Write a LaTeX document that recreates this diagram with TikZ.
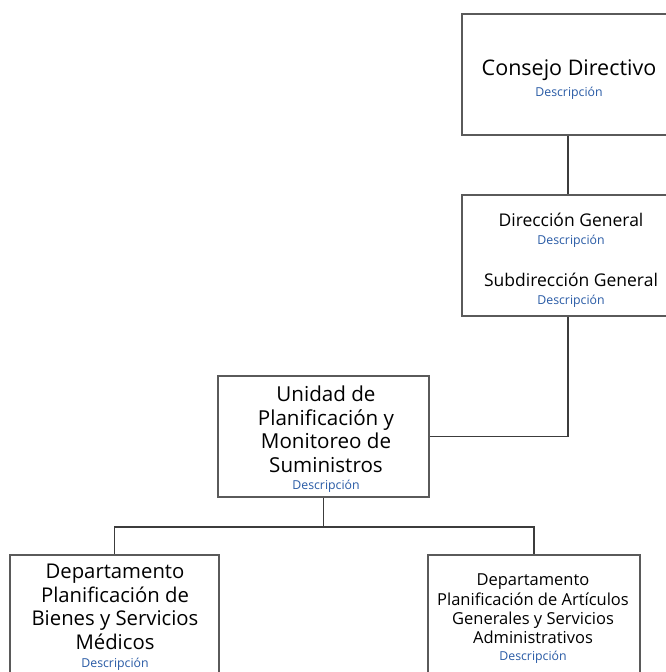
\documentclass[tikz,border=0pt]{standalone}
\usepackage{fontspec}
\setmainfont{Open Sans}
\definecolor{boxgray}{RGB}{90,90,90}
\definecolor{linegray}{RGB}{60,60,60}
\definecolor{descblue}{RGB}{40,90,165}
\begin{document}
\begin{tikzpicture}[x=1pt,y=-1pt,
    box/.style={draw=boxgray,line width=1.3pt,fill=white,inner sep=0pt},
    big/.style={align=center,font=\fontsize{20.3}{23.5}\selectfont},
    mid/.style={align=center,font=\fontsize{16.5}{19.3}\selectfont},
    desc/.style={font=\fontsize{12.3}{14}\selectfont,text=descblue},
    link/.style={draw=linegray,line width=1.8pt}]
                \useasboundingbox (0,0) rectangle (665,672);
                \node[box,minimum width=212pt,minimum height=121pt] (consejo) at (568,74.5) {};
                \node[box,minimum width=212pt,minimum height=121pt] (direccion) at (568,255.5) {};
                \node[box,minimum width=211pt,minimum height=121pt] (unidad) at (323.5,436.5) {};
                \node[box,minimum width=209pt,minimum height=150pt] (bienes) at (114.5,630) {};
                \node[box,minimum width=212pt,minimum height=150pt] (articulos) at (534,630) {};
                \coordinate (fork) at (323.5,527);

                \draw[link] (consejo.south) -- (direccion.north);
                \draw[link] (direccion.south) |- (unidad.east);
                \draw[link] (unidad.south) -- (fork);
                \draw[link] (fork) -| (bienes.north);
                \draw[link] (fork) -| (articulos.north);

                \node[big,font=\fontsize{21.5}{25}\selectfont] (consejoT) at (569,70) {Consejo Directivo};
                \node[desc] (consejoD) at (569,93) {Descripción};
                \node[mid,font=\fontsize{17.5}{20}\selectfont] (direccionT) at (571,220) {Dirección General};
                \node[desc] (direccionD) at (571,241) {Descripción};
                \node[mid,font=\fontsize{17.5}{20}\selectfont] (subdireccionT) at (571,280) {Subdirección General};
                \node[desc] (subdireccionD) at (571,301) {Descripción};
                \node[big,font=\fontsize{20.6}{23.5}\selectfont] (unidadT) at (326,429.5) {Unidad de\\Planificación y\\Monitoreo de\\Suministros};
                \node[desc] (unidadD) at (326,486) {Descripción};
                \node[big] (bienesT) at (115,607) {Departamento\\Planificación de\\Bienes y Servicios\\Médicos};
                \node[desc] (bienesD) at (115,664) {Descripción};
                \node[mid] (articulosT) at (533,609) {Departamento\\Planificación de Artículos\\Generales y Servicios\\Administrativos};
                \node[desc] (articulosD) at (533,657) {Descripción};
            \end{tikzpicture}
\end{document}
